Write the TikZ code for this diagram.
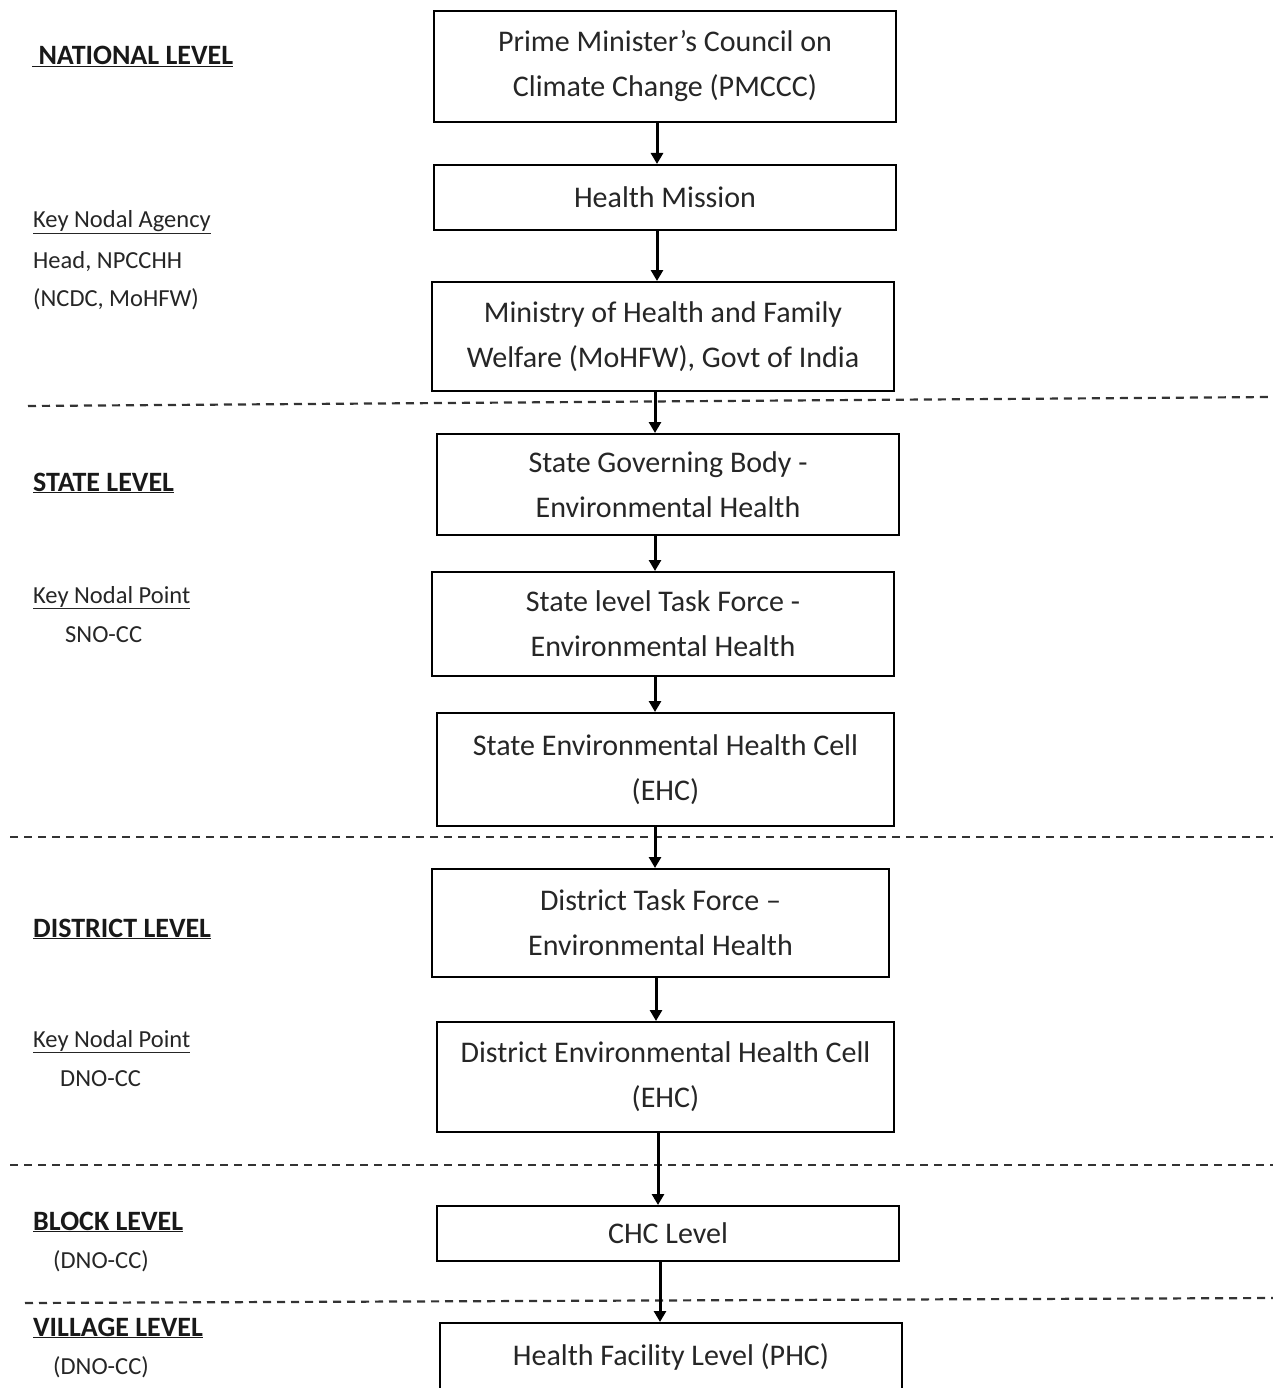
\documentclass[tikz,border=0pt]{standalone}
\usepackage{fontspec}
\setmainfont{Carlito}
\usetikzlibrary{arrows.meta}
\begin{document}
\begin{tikzpicture}[x=1pt,y=-1pt,
  box/.style={draw=black, line width=2pt, rectangle, align=center, inner sep=0pt,
    font=\fontsize{30}{45}\selectfont, text=black!85},
  arr/.style={line width=3pt, -{Triangle[length=11pt,width=12pt]}},
  sep/.style={line width=2.2pt, black!80, dash pattern=on 8pt off 6pt},
  lvl/.style={anchor=base west, inner sep=0pt, font=\fontsize{28}{32}\selectfont\bfseries, text=black!90},
  note/.style={anchor=base west, inner sep=0pt, font=\fontsize{24.5}{30}\selectfont, text=black!85}]
\useasboundingbox (0,0) rectangle (1273,1388);
\fill[white] (0,0) rectangle (1273,1388);

% level separators
\draw[sep] (28,406) -- (1273,397);
\draw[sep] (10,837) -- (1273,837);
\draw[sep] (10,1165) -- (1273,1165);
\draw[sep] (25,1303) -- (1273,1298);

% boxes
\node[box, minimum width=462pt, minimum height=111pt] (pmccc) at (665,66.5) {Prime Minister's Council on\\Climate Change (PMCCC)};
\node[box, minimum width=462pt, minimum height=65pt] (hm) at (665,197.5) {Health Mission};
\node[box, minimum width=462pt, minimum height=109pt] (mohfw) at (663,336.5) {Ministry of Health and Family\\Welfare (MoHFW), Govt of India};
\node[box, minimum width=462pt, minimum height=101pt] (sgb) at (668,484.5) {State Governing Body -\\Environmental Health};
\node[box, minimum width=462pt, minimum height=104pt] (stf) at (663,624) {State level Task Force -\\Environmental Health};
\node[box, minimum width=457pt, minimum height=113pt] (sehc) at (665.5,769.5) {State Environmental Health Cell\\(EHC)};
\node[box, minimum width=457pt, minimum height=108pt] (dtf) at (660.5,923) {District Task Force –\\Environmental Health};
\node[box, minimum width=457pt, minimum height=110pt] (dehc) at (665.5,1077) {District Environmental Health Cell\\(EHC)};
\node[box, minimum width=462pt, minimum height=55pt] (chc) at (668,1233.5) {CHC Level};
\node[box, minimum width=462pt, minimum height=80pt, text height=42pt, text depth=38pt] (phc) at (671,1363) {Health Facility Level (PHC)};

% arrows
\coordinate (a1) at (657,0);
\coordinate (a2) at (655,0);
\coordinate (a3) at (656,0);
\coordinate (a4) at (658,0);
\coordinate (a5) at (660,0);
\draw[arr] (a1 |- pmccc.south) -- (a1 |- hm.north);
\draw[arr] (a1 |- hm.south) -- (a1 |- mohfw.north);
\draw[arr] (a2 |- mohfw.south) -- (a2 |- sgb.north);
\draw[arr] (a2 |- sgb.south) -- (a2 |- stf.north);
\draw[arr] (a2 |- stf.south) -- (a2 |- sehc.north);
\draw[arr] (a2 |- sehc.south) -- (a2 |- dtf.north);
\draw[arr] (a3 |- dtf.south) -- (a3 |- dehc.north);
\draw[arr] (a4 |- dehc.south) -- (a4 |- chc.north);
\draw[arr] (a5 |- chc.south) -- (a5 |- phc.north);

% left labels
\node[lvl] (lnat) at (32,65) {\underline{\ NATIONAL LEVEL}};
\node[note] (knat1) at (33,228) {\underline{Key Nodal Agency}};
\node[note] (knat2) at (33,268) {Head, NPCCHH};
\node[note] (knat3) at (33,306) {(NCDC, MoHFW)};
\node[lvl] (lstate) at (33,491) {\underline{STATE LEVEL}};
\node[note] (kstate1) at (33,603) {\underline{Key Nodal Point}};
\node[note] (kstate2) at (65,642) {SNO-CC};
\node[lvl] (ldist) at (33,937) {\underline{DISTRICT LEVEL}};
\node[note] (kdist1) at (33,1047) {\underline{Key Nodal Point}};
\node[note] (kdist2) at (60,1086) {DNO-CC};
\node[lvl] (lblock) at (33,1230) {\underline{BLOCK LEVEL}};
\node[note] (kblock) at (53,1268) {(DNO-CC)};
\node[lvl] (lvill) at (33,1336) {\underline{VILLAGE LEVEL}};
\node[note] (kvill) at (53,1374) {(DNO-CC)};
\end{tikzpicture}
\end{document}
